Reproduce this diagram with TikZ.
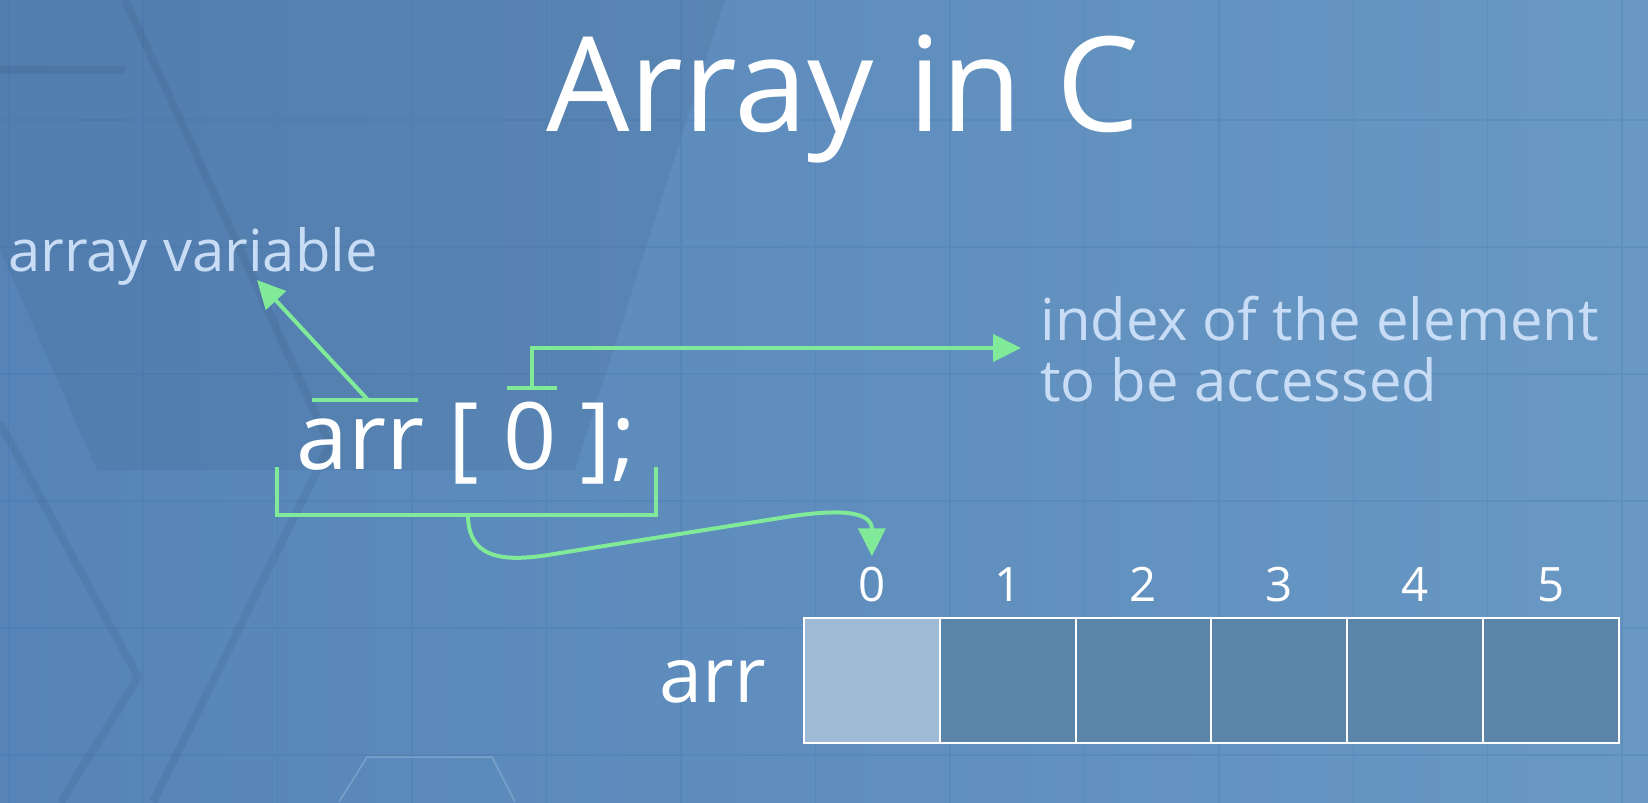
\documentclass[tikz,border=0pt]{standalone}
\usepackage{fontspec}
\setmainfont{Open Sans}
\usetikzlibrary{arrows.meta,positioning}
\definecolor{bgleft}{RGB}{86,132,185}
\definecolor{bgright}{RGB}{104,152,195}
\definecolor{hintgreen}{RGB}{128,234,152}
\definecolor{paleblue}{RGB}{200,221,245}
\definecolor{cellfill}{RGB}{90,132,168}
\definecolor{cellhit}{RGB}{158,186,213}
\definecolor{gridblue}{RGB}{60,110,165}

\begin{document}
\begin{tikzpicture}
[x=0.02cm, y=0.02cm, >={Triangle[length=0.56cm,width=0.54cm]},
titletext/.style={text=white, inner sep=0pt, font=\fontsize{75}{80}\selectfont},
notetext/.style={text=paleblue, inner sep=0pt, align=left, font=\fontsize{33}{34.5}\selectfont},
codetext/.style={text=white, inner sep=0pt, font=\fontsize{53}{56}\selectfont},
namelabel/.style={text=white, inner sep=0pt, font=\fontsize{44}{48}\selectfont},
idxlabel/.style={text=white, inner sep=0pt, font=\fontsize{27}{30}\selectfont},
cellbox/.style={draw=white, line width=0.04cm, fill=cellfill, minimum width=2.716cm,
  minimum height=2.5cm, inner sep=0pt, outer sep=0pt},
marker/.style={draw=hintgreen, line width=0.08cm},
pointer/.style={marker, ->}
]
  \useasboundingbox (0,0) rectangle (1648,-802);
  % background with faint hexagons and grid
  \shade[left color=bgleft, right color=bgright] (0,0) rectangle (1648,-802);
  \fill[black, opacity=0.05] (0,0) -- (725,0) -- (575,-470) -- (97,-470) -- (0,-250) -- cycle;
  \draw[gridblue, opacity=0.2, line width=0.03cm, xshift=0.17cm, yshift=0.14cm,
    xstep=2.69cm, ystep=2.54cm] (-10,10) grid (1660,-810);
  \draw[black, opacity=0.06, line width=0.16cm] (125,0) -- (330,-445) -- (153,-802);
  \draw[black, opacity=0.06, line width=0.16cm] (0,-423) -- (138,-677) -- (61,-802);
  \draw[black, opacity=0.06, line width=0.16cm] (0,-70) -- (126,-70);
  \draw[white, opacity=0.2, line width=0.03cm] (339,-802) -- (367,-757) -- (492,-757) -- (515,-802);

  \node[titletext, anchor=base] (title) at (843,-131) {Array in C};

  % the array
  \node[cellbox, fill=cellhit] (c0) at (871.9,-680.5) {};
  \node[cellbox] (c1) [right=0pt of c0] {};
  \node[cellbox] (c2) [right=0pt of c1] {};
  \node[cellbox] (c3) [right=0pt of c2] {};
  \node[cellbox] (c4) [right=0pt of c3] {};
  \node[cellbox] (c5) [right=0pt of c4] {};
  \node[idxlabel] (idx0) [above=0.34cm of c0, anchor=base] {0};
  \node[idxlabel] (idx1) [above=0.34cm of c1, anchor=base] {1};
  \node[idxlabel] (idx2) [above=0.34cm of c2, anchor=base] {2};
  \node[idxlabel] (idx3) [above=0.34cm of c3, anchor=base] {3};
  \node[idxlabel] (idx4) [above=0.34cm of c4, anchor=base] {4};
  \node[idxlabel] (idx5) [above=0.34cm of c5, anchor=base] {5};
  \node[namelabel, anchor=base east] (arrname) at (766,-702) {arr};

  % the statement and its notes
  \node[codetext, anchor=base west] (stmt) at (296,-469) {arr [ 0 ];};
  \node[notetext, anchor=base west] (varnote) at (8,-271) {array variable};
  \node[notetext, anchor=base west] (idxnote) at (1040,-401) {index of the element\\to be accessed};

  \coordinate (namebarL) at (312,-400);
  \coordinate (namebarR) at (418,-400);
  \coordinate (namefoot) at (368,-400);
  \coordinate (namehead) at (257,-280);
  \coordinate (idxbarL) at (507,-388);
  \coordinate (idxbarR) at (557,-388);
  \coordinate (idxfoot) at (532,-388);
  \coordinate (idxhead) at (1021,-348);
  \coordinate (brkL) at (277,-467);
  \coordinate (brkR) at (656,-467);
  \coordinate (brkmid) at (468,-515);

  \draw[marker] (namebarL) -- (namebarR);
  \draw[pointer] (namefoot) -- (namehead);
  \draw[marker] (idxbarL) -- (idxbarR);
  \draw[pointer] (idxfoot) |- (idxhead);
  \draw[marker] (brkL) |- (brkmid) -| (brkR);
  \draw[pointer] (brkmid) .. controls +(0,-50) and +(-45,-8) .. (560,-553)
    -- (780,-518) .. controls +(60,10) and +(0,45) .. ([yshift=0.2cm]idx0.north);
\end{tikzpicture}
\end{document}
